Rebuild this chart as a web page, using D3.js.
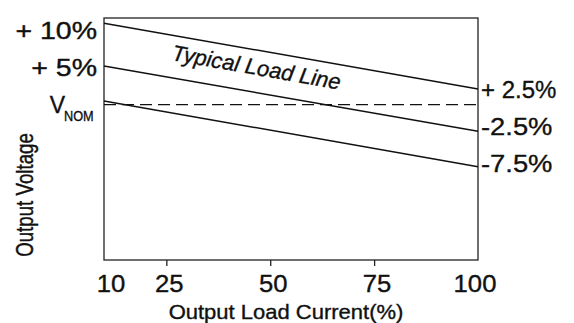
<!DOCTYPE html>
<html>
<head>
<meta charset="utf-8">
<script src="https://cdn.jsdelivr.net/npm/d3@7"></script>
<style>
  body { margin: 0; background: #fff; }
  svg { display: block; }
  text { stroke: #111; stroke-width: 0.35; }
</style>
</head>
<body>
<svg width="574" height="323"></svg>
<script>
// load current (%) at the two ends of each load line
let loadCurrent = [10, 100];
// output voltage deviation (%) read at 10% and 100% load
let lineStart = [11.0, 5.2, 0.5];
let lineEnd = [2.1, -3.6, -8.4];
let nominal = 0;

let xTicks = [10, 25, 50, 75, 100];
let leftLabels = ["+ 10%", "+ 5%"];
let leftValues = [10, 5];
let rightLabels = ["+ 2.5%", "-2.5%", "-7.5%"];
let rightValues = [2.5, -2.5, -7.5];

let font = "'Liberation Sans', Arial, Helvetica, sans-serif";

let svg = d3.select("svg");
let plotL = 104, plotR = 478, plotT = 18, plotB = 260;

let x = d3.scaleLinear().domain([10, 100]).range([plotL, plotR]);
let y = d3.scaleLinear().domain([-21, 11.7]).range([plotB, plotT]);

// text helper, some labels in the original are stretched sideways
let label = function (txt, px, py, size, sx, anchor) {
  return svg.append("text")
    .attr("transform", `translate(${px},${py}) scale(${sx},1)`)
    .attr("font-family", font)
    .attr("font-size", size)
    .attr("text-anchor", anchor)
    .attr("fill", "#111")
    .text(txt);
};

// frame
svg.append("rect")
  .attr("x", plotL).attr("y", plotT)
  .attr("width", plotR - plotL).attr("height", plotB - plotT)
  .attr("fill", "none")
  .attr("stroke", "#222")
  .attr("stroke-width", 1.3);

// x ticks (outside, below)
let xAxis = d3.axisBottom(x).tickValues(xTicks.slice(1, -1)).tickSize(6).tickFormat("");
let ax = svg.append("g").attr("transform", `translate(0,${plotB})`).call(xAxis);
ax.select(".domain").remove();
ax.selectAll("line").attr("stroke", "#222").attr("stroke-width", 1.3);

xTicks.forEach(function (v) {
  let px = Math.max(plotL + 7, Math.min(plotR - 3, x(v) + 3));
  label(String(v), px, 292, 24, 1.07, "middle");
});

// nominal dashed line
svg.append("line")
  .attr("x1", x(loadCurrent[0])).attr("x2", x(loadCurrent[1]))
  .attr("y1", y(nominal)).attr("y2", y(nominal))
  .attr("stroke", "#111")
  .attr("stroke-width", 1.3)
  .attr("stroke-dasharray", "12,6");

// load lines
let lines = lineStart.map((s, i) => [[loadCurrent[0], s], [loadCurrent[1], lineEnd[i]]]);
svg.selectAll(".load")
  .data(lines)
  .join("path")
  .attr("class", "load")
  .attr("d", d3.line().x(d => x(d[0])).y(d => y(d[1])))
  .attr("fill", "none")
  .attr("stroke", "#111")
  .attr("stroke-width", 1.5);

// left labels
leftLabels.forEach(function (t, i) {
  label(t, 97, y(leftValues[i]) + 8, 23, 1.24, "end");
});
label("V", 65, y(nominal) + 8, 23, 1.0, "end");
label("NOM", 64, y(nominal) + 16.5, 15, 0.85, "start");

// right labels ("-" labels are drawn wider in the original)
rightLabels.forEach(function (t, i) {
  label(t, 481, y(rightValues[i]) + 12, 24, t[0] === "+" ? 1.0 : 1.14, "start");
});

// typical load line caption, follows slope of the top line
let ang = Math.atan2(y(lineEnd[0]) - y(lineStart[0]), x(loadCurrent[1]) - x(loadCurrent[0])) * 180 / Math.PI;
svg.append("text")
  .attr("transform", `translate(171,60) rotate(${ang})`)
  .attr("font-family", font)
  .attr("font-size", 22)
  .attr("font-style", "italic")
  .attr("fill", "#111")
  .text("Typical Load Line");

// axis titles
label("Output Load Current(%)", 286, 318.5, 20, 1.1, "middle");
svg.append("text")
  .attr("transform", "translate(33,195) scale(1.3,1) rotate(-90)")
  .attr("font-family", font)
  .attr("font-size", 18.7)
  .attr("text-anchor", "middle")
  .attr("fill", "#111")
  .text("Output Voltage");
</script>
</body>
</html>
